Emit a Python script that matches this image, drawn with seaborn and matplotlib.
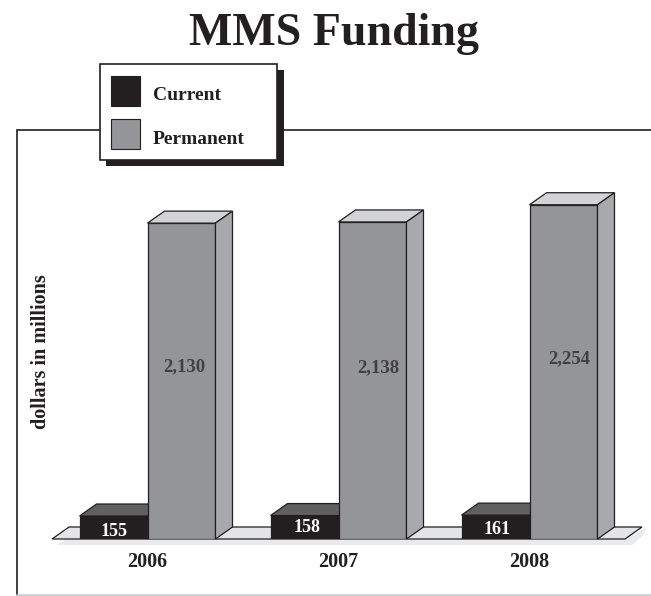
import pandas as pd
import seaborn as sns
import matplotlib
matplotlib.use('Agg')
import matplotlib.pyplot as plt
from matplotlib.patches import Polygon, Rectangle

years = ['2006', '2007', '2008']
current = [155, 158, 161]
permanent = [2130, 2138, 2254]
series_names = ['Current', 'Permanent']

W, H = 651, 596
DARK = '#231f20'

sns.set_style('white')
plt.rcParams['font.family'] = ['Liberation Serif', 'DejaVu Serif']
plt.rcParams['font.weight'] = 'bold'

df = pd.DataFrame({
    'year': years * 2,
    'series': [series_names[0]] * 3 + [series_names[1]] * 3,
    'value': current + permanent,
})

fig = plt.figure(figsize=(W / 100, H / 100), dpi=100)
fig.patch.set_facecolor('white')

# overlay in pixel coords, for the frame, legend and value labels
over = fig.add_axes([0, 0, 1, 1], zorder=3)
over.set_xlim(0, W)
over.set_ylim(H, 0)
over.axis('off')

# the real chart, lined up with the floor of the picture
left, right, base, top = 52, 625, 539, 168.25
ax = fig.add_axes([left / W, 1 - base / H, (right - left) / W, (base - top) / H], zorder=2)
ax.patch.set_alpha(0)

sns.barplot(data=df, x='year', y='value', hue='series', palette=[DARK, '#939598'],
            width=0.712, gap=0, legend=False, ax=ax, saturation=1, zorder=5)
ax.set_xlim(-0.5, 2.5)
ax.set_ylim(0, 2500)
sns.despine(ax=ax, left=True, bottom=True)
ax.set_yticks([])
ax.set_xlabel('')
ax.set_ylabel('')
ax.tick_params(axis='x', length=0, pad=9.5, labelsize=14.5, colors=DARK)

# depth of the fake 3d, in data units
dx = 17 / 191
dy = 12 / 0.1483

# floor and its shadow
ax.add_patch(Polygon([(-0.47, -40), (2.54, -40), (2.6, 0.4 * dy), (2.5 + dx * 1.25, dy * 0.95), (2.5, 0), (-0.43, 0)],
                     closed=True, fc='#e9eaeb', ec='none', clip_on=False, zorder=1))
ax.add_patch(Polygon([(-0.5, 0), (2.5, 0), (2.5 + dx, dy), (-0.5 + dx, dy)],
                     closed=True, fc='#e4e5e6', ec=DARK, lw=0.9, clip_on=False, zorder=2))

for container, top_col, side_col, z in zip(ax.containers, ['#5f6062', '#d1d3d4'], ['#5f6062', '#a7a9ac'], [5, 6]):
    for bar in container:
        x0 = bar.get_x()
        x1 = x0 + bar.get_width()
        h = bar.get_height()
        bar.set_zorder(z)
        bar.set_edgecolor(DARK)
        bar.set_linewidth(0.9)
        ax.add_patch(Polygon([(x0, h), (x1, h), (x1 + dx, h + dy), (x0 + dx, h + dy)],
                             closed=True, fc=top_col, ec=DARK, lw=0.9, clip_on=False, zorder=z))
        ax.add_patch(Polygon([(x1, 0), (x1 + dx, dy), (x1 + dx, h + dy), (x1, h)],
                             closed=True, fc=side_col, ec=DARK, lw=0.9, clip_on=False, zorder=z))

# frame
over.plot([100, 17, 17], [130, 130, 595], color=DARK, lw=1.2, solid_joinstyle='miter')
over.plot([284, 651], [130, 130], color=DARK, lw=1.2)
over.plot([17, 651], [595, 595], color='#c8c9cb', lw=1.2)

# legend box
over.add_patch(Rectangle((106, 70), 178, 96, fc=DARK, ec='none', zorder=4))
over.add_patch(Rectangle((100, 64), 177, 96, fc='white', ec=DARK, lw=1.2, zorder=5))
over.add_patch(Rectangle((111, 76), 29, 30, fc=DARK, ec=DARK, lw=0.8, zorder=6))
over.add_patch(Rectangle((111, 119), 29, 30, fc='#939598', ec=DARK, lw=0.8, zorder=6))
over.text(153, 96, series_names[0], fontsize=14, color=DARK, va='center', ha='left', zorder=6)
over.text(153, 139, series_names[1], fontsize=14, color=DARK, va='center', ha='left', zorder=6)

# title and axis label
over.text(334, 34, 'MMS Funding', fontsize=33, color=DARK, ha='center', va='center')
over.text(41, 352, 'dollars in millions', fontsize=14.5, color=DARK, rotation=90, ha='center', va='center')

# value labels
cur_xy = [(114, 532), (307, 528), (497, 530)]
perm_xy = [(184, 367), (378, 368), (569, 359)]
for v, (x, y) in zip(current, cur_xy):
    over.text(x, y, f'{v:,}', fontsize=13, color='white', ha='center', va='center', zorder=7)
for v, (x, y) in zip(permanent, perm_xy):
    over.text(x, y, f'{v:,}', fontsize=13.5, color='#414042', ha='center', va='center', zorder=7)

fig.savefig('out.png', dpi=100)
